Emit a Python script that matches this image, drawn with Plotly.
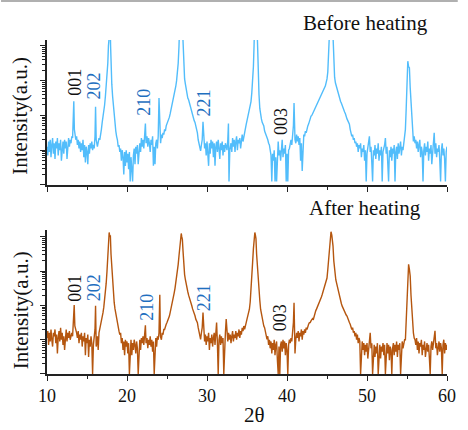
import plotly.graph_objects as go

# ---------------- data (2theta in degrees, log10 of intensity in a.u.) ----------------
two_theta_before = [
10.0,10.1,10.2,10.3,10.4,10.5,10.6,10.7,10.8,10.9,11.0,11.1,11.2,11.3,11.4,11.5,11.6,11.7,11.8,11.9,
12.0,12.1,12.2,12.3,12.4,12.5,12.6,12.7,12.8,12.9,13.0,13.1,13.2,13.3,13.35,13.42,13.5,13.6,13.7,13.8,13.9,
14.0,14.1,14.2,14.3,14.4,14.5,14.6,14.7,14.8,14.9,15.0,15.1,15.2,15.3,15.4,15.5,15.6,15.7,15.8,15.9,
16.0,16.07,16.15,16.3,16.4,16.5,16.6,16.7,16.8,16.9,17.0,17.1,17.2,17.3,17.4,17.5,17.6,17.68,17.72,17.9,17.95,
18.0,18.1,18.2,18.3,18.4,18.5,18.6,18.7,18.8,18.9,19.0,19.1,19.2,19.3,19.4,19.5,19.6,19.7,19.8,19.9,
20.0,20.1,20.2,20.3,20.4,20.5,20.6,20.7,20.8,20.9,21.0,21.1,21.2,21.3,21.4,21.5,21.6,21.7,21.8,21.9,
22.0,22.1,22.2,22.3,22.38,22.5,22.6,22.7,22.8,22.9,23.0,23.1,23.2,23.3,23.4,23.5,23.6,23.7,23.8,23.9,
24.0,24.1,24.2,24.3,24.4,24.5,24.6,24.7,24.8,24.9,25.0,25.1,25.2,25.3,25.4,25.5,25.6,25.7,25.8,25.9,
26.0,26.1,26.2,26.3,26.4,26.5,26.58,26.92,27.0,27.1,27.2,27.3,27.4,27.5,27.6,27.7,27.8,27.9,
28.0,28.1,28.2,28.3,28.4,28.5,28.6,28.7,28.8,28.9,29.0,29.1,29.2,29.3,29.4,29.5,29.58,29.7,29.8,29.9,
30.0,30.1,30.2,30.3,30.4,30.5,30.6,30.7,30.8,30.9,31.0,31.1,31.2,31.3,31.4,31.5,31.6,31.7,31.8,31.9,
32.0,32.1,32.2,32.3,32.4,32.5,32.6,32.68,32.75,32.85,33.0,33.1,33.2,33.3,33.4,33.5,33.6,33.7,33.8,33.9,
34.0,34.1,34.2,34.3,34.4,34.5,34.6,34.7,34.8,34.9,35.0,35.1,35.2,35.3,35.4,35.5,35.6,35.7,35.8,35.88,35.95,
36.25,36.32,36.4,36.5,36.6,36.7,36.8,36.9,37.0,37.1,37.2,37.3,37.4,37.5,37.6,37.7,37.8,37.9,
38.0,38.1,38.2,38.3,38.4,38.5,38.6,38.7,38.8,38.9,39.0,39.1,39.2,39.3,39.4,39.5,39.6,39.7,39.8,39.9,
40.0,40.1,40.2,40.3,40.4,40.5,40.6,40.7,40.8,40.88,40.95,41.0,41.1,41.2,41.3,41.4,41.5,41.6,41.7,41.8,41.9,
42.0,42.1,42.2,42.3,42.4,42.5,42.6,42.7,42.8,42.9,43.0,43.1,43.2,43.3,43.4,43.5,43.6,43.7,43.8,43.9,
44.0,44.1,44.2,44.3,44.4,44.5,44.6,44.7,44.8,44.9,45.0,45.1,45.2,45.28,45.35,45.7,45.78,45.85,45.95,
46.05,46.2,46.3,46.4,46.5,46.6,46.7,46.8,46.9,47.0,47.1,47.2,47.3,47.4,47.5,47.6,47.7,47.8,47.9,
48.0,48.1,48.2,48.3,48.4,48.5,48.6,48.7,48.8,48.9,49.0,49.1,49.2,49.3,49.4,49.5,49.6,49.7,49.8,49.9,
50.0,50.1,50.2,50.3,50.4,50.5,50.6,50.7,50.8,50.9,51.0,51.1,51.2,51.3,51.4,51.5,51.6,51.7,51.8,51.9,
52.0,52.1,52.2,52.3,52.4,52.5,52.6,52.7,52.8,52.9,53.0,53.1,53.2,53.3,53.4,53.5,53.6,53.7,53.8,53.9,
54.0,54.1,54.2,54.3,54.4,54.5,54.6,54.7,54.8,54.9,55.0,55.1,55.2,55.3,55.4,55.5,55.6,55.7,55.8,55.9,
56.0,56.1,56.2,56.3,56.4,56.5,56.6,56.7,56.8,56.9,57.0,57.1,57.2,57.3,57.4,57.5,57.6,57.7,57.8,57.9,
58.0,58.1,58.2,58.3,58.4,58.5,58.6,58.7,58.8,58.9,59.0,59.1,59.2,59.3,59.4,59.5,59.6,59.7,59.8,59.9,60.0]

log_counts_before = [
1.10,0.85,1.25,0.95,1.30,0.80,1.15,1.35,0.90,1.20,0.75,1.25,1.05,1.35,0.85,1.20,1.00,1.30,0.70,1.15,
1.25,0.90,1.30,1.05,1.25,0.75,1.20,1.35,1.10,1.30,1.20,1.40,1.35,1.90,2.41,1.60,1.45,1.30,1.40,1.15,1.30,
1.05,1.25,0.95,1.20,1.00,1.30,0.80,1.15,0.65,1.10,0.95,0.60,1.15,0.90,1.20,1.05,1.25,1.00,1.15,1.05,
1.40,2.25,1.30,1.10,1.20,1.35,1.30,1.55,1.60,1.80,1.95,2.10,2.30,2.55,2.80,3.10,3.50,4.00,4.60,4.60,4.00,
3.40,2.90,2.55,2.25,2.00,1.80,1.55,1.40,1.30,1.10,1.15,0.95,1.05,0.70,1.00,0.80,0.30,0.95,0.55,1.00,
0.65,0.90,0.45,0.95,0.10,0.80,0.40,0.10,0.85,1.05,0.60,1.10,0.90,1.15,0.60,1.00,1.20,0.95,1.35,1.10,
1.30,1.05,1.35,1.77,1.20,1.40,1.10,1.35,1.20,0.95,1.30,1.15,1.40,0.55,1.10,0.60,1.20,1.30,1.05,1.40,
2.50,1.30,1.20,1.45,1.35,1.50,1.45,1.60,1.55,1.70,1.75,1.80,1.90,1.95,2.05,2.15,2.25,2.36,2.45,2.55,
2.70,2.84,3.00,3.20,3.50,4.00,4.60,4.60,4.00,3.30,3.05,2.90,2.75,2.65,2.50,2.45,2.36,2.25,
2.20,2.10,2.03,1.95,1.85,1.80,1.70,1.55,1.50,1.30,1.20,1.10,0.98,1.15,1.30,1.82,1.25,1.05,1.20,0.85,
1.25,1.00,0.55,1.20,0.90,1.30,1.05,1.25,0.80,1.20,0.55,1.10,1.25,0.95,1.30,1.05,0.75,1.20,1.00,1.25,
0.85,1.15,0.95,1.20,1.10,1.00,1.30,1.77,0.10,1.00,1.20,0.95,1.35,1.10,1.30,0.95,1.25,1.40,1.00,1.30,
1.20,1.35,1.05,1.30,1.45,1.25,1.40,1.55,1.65,1.74,1.85,1.95,2.05,2.15,2.25,2.40,2.65,3.00,3.40,4.00,4.60,
4.60,3.80,3.10,2.60,2.20,1.98,1.90,1.80,1.75,1.70,1.55,1.50,1.45,1.40,1.30,1.20,1.15,1.00,
0.85,0.10,0.90,0.70,1.00,0.10,0.80,0.10,0.95,1.25,0.85,1.00,0.70,1.10,1.30,0.80,1.05,0.90,1.15,0.10,
0.90,0.10,1.00,1.05,1.20,1.30,1.15,1.40,1.70,2.36,1.50,1.30,1.20,1.45,1.25,1.40,1.15,1.35,0.70,1.20,0.40,
1.30,1.45,1.40,1.55,1.50,1.65,1.70,1.75,1.80,1.90,1.98,2.00,2.05,2.10,2.15,2.20,2.25,2.30,2.35,2.40,
2.45,2.50,2.55,2.60,2.65,2.70,2.75,2.80,2.85,2.95,3.05,3.25,3.60,4.10,4.60,4.60,4.00,3.40,3.10,
2.94,2.80,2.70,2.62,2.55,2.48,2.40,2.35,2.27,2.22,2.17,2.10,2.05,1.95,1.90,1.85,1.80,1.75,1.60,
1.50,1.40,1.45,1.30,1.35,1.20,1.25,1.10,1.20,0.95,1.15,1.05,1.20,0.80,1.05,0.95,1.15,0.70,1.00,0.10,
0.90,1.05,1.25,1.40,0.95,1.10,0.65,0.10,1.00,0.85,1.15,0.75,1.05,0.90,1.20,0.70,1.00,0.85,1.10,0.10,
0.95,1.05,1.15,1.35,0.90,1.10,0.60,0.10,1.00,0.80,1.10,0.70,1.05,0.90,1.15,0.10,0.95,1.10,0.75,1.20,
0.90,1.05,1.25,0.85,1.10,1.00,1.20,1.35,1.60,2.20,3.00,3.56,3.40,3.37,2.80,2.36,1.80,1.35,1.25,1.40,
1.20,1.30,1.05,1.25,0.95,1.15,1.30,0.80,1.10,0.95,0.10,1.00,1.20,0.85,1.10,0.95,1.25,0.70,1.05,0.90,
1.15,0.60,1.00,1.10,1.50,0.90,1.20,0.80,1.05,0.95,1.15,0.70,0.10,1.00,1.20,0.85,1.05,0.75,0.10,0.95,1.10]

two_theta_after = [
10.0,10.1,10.2,10.3,10.4,10.5,10.6,10.7,10.8,10.9,11.0,11.1,11.2,11.3,11.4,11.5,11.6,11.7,11.8,11.9,
12.0,12.1,12.2,12.3,12.4,12.5,12.6,12.7,12.8,12.9,13.0,13.1,13.2,13.3,13.4,13.48,13.6,13.7,13.8,13.9,
14.0,14.1,14.2,14.3,14.4,14.5,14.6,14.7,14.8,14.9,15.0,15.1,15.2,15.3,15.4,15.5,15.6,15.7,15.8,15.9,
16.0,16.07,16.15,16.3,16.4,16.5,16.6,16.7,16.8,16.9,17.0,17.1,17.2,17.3,17.4,17.5,17.6,17.7,17.77,17.85,17.92,
18.0,18.1,18.2,18.3,18.4,18.5,18.6,18.7,18.8,18.9,19.0,19.1,19.2,19.3,19.4,19.5,19.6,19.7,19.8,19.9,
20.0,20.1,20.2,20.3,20.4,20.5,20.6,20.7,20.8,20.9,21.0,21.1,21.2,21.3,21.4,21.5,21.6,21.7,21.8,21.9,
22.0,22.1,22.2,22.3,22.38,22.5,22.6,22.7,22.8,22.9,23.0,23.1,23.2,23.3,23.4,23.5,23.6,23.7,23.8,23.9,
24.0,24.1,24.18,24.3,24.4,24.5,24.6,24.7,24.8,24.9,25.0,25.1,25.2,25.3,25.4,25.5,25.6,25.7,25.8,25.9,
26.0,26.1,26.2,26.3,26.4,26.5,26.6,26.7,26.78,26.85,26.92,27.0,27.1,27.2,27.3,27.4,27.5,27.6,27.7,27.8,27.9,
28.0,28.1,28.2,28.3,28.4,28.5,28.6,28.7,28.8,28.9,29.0,29.1,29.2,29.3,29.4,29.5,29.58,29.7,29.8,29.9,
30.0,30.1,30.2,30.3,30.4,30.5,30.6,30.7,30.8,30.9,31.0,31.1,31.2,31.3,31.4,31.5,31.6,31.7,31.8,31.9,
32.0,32.1,32.2,32.3,32.4,32.5,32.6,32.7,32.8,32.9,33.0,33.1,33.2,33.3,33.4,33.5,33.6,33.7,33.8,33.9,
34.0,34.1,34.2,34.3,34.4,34.5,34.6,34.7,34.8,34.9,35.0,35.1,35.2,35.3,35.4,35.5,35.6,35.7,35.8,35.88,35.98,
36.05,36.12,36.2,36.3,36.4,36.5,36.6,36.7,36.8,36.9,37.0,37.1,37.2,37.3,37.4,37.5,37.6,37.7,37.8,37.9,
38.0,38.1,38.2,38.3,38.4,38.5,38.6,38.7,38.8,38.9,39.0,39.1,39.2,39.3,39.4,39.5,39.6,39.7,39.8,39.9,
40.0,40.1,40.2,40.3,40.4,40.5,40.6,40.7,40.8,40.88,40.95,41.0,41.1,41.2,41.3,41.4,41.5,41.6,41.7,41.8,41.9,
42.0,42.1,42.2,42.3,42.4,42.5,42.6,42.7,42.8,42.9,43.0,43.1,43.2,43.3,43.4,43.5,43.6,43.7,43.8,43.9,
44.0,44.1,44.2,44.3,44.4,44.5,44.6,44.7,44.8,44.9,45.0,45.1,45.2,45.3,45.4,45.5,45.6,45.68,45.75,45.85,45.95,
46.0,46.1,46.2,46.3,46.4,46.5,46.6,46.7,46.8,46.9,47.0,47.1,47.2,47.3,47.4,47.5,47.6,47.7,47.8,47.9,
48.0,48.1,48.2,48.3,48.4,48.5,48.6,48.7,48.8,48.9,49.0,49.1,49.2,49.3,49.4,49.5,49.6,49.7,49.8,49.9,
50.0,50.1,50.2,50.3,50.4,50.5,50.6,50.7,50.8,50.9,51.0,51.1,51.2,51.3,51.4,51.5,51.6,51.7,51.8,51.9,
52.0,52.1,52.2,52.3,52.4,52.5,52.6,52.7,52.8,52.9,53.0,53.1,53.2,53.3,53.4,53.5,53.6,53.7,53.8,53.9,
54.0,54.1,54.2,54.3,54.4,54.5,54.6,54.7,54.8,54.9,55.0,55.1,55.2,55.3,55.4,55.5,55.6,55.7,55.8,55.9,
56.0,56.1,56.2,56.3,56.4,56.5,56.6,56.7,56.8,56.9,57.0,57.1,57.2,57.3,57.4,57.5,57.6,57.7,57.8,57.9,
58.0,58.1,58.2,58.3,58.4,58.5,58.6,58.7,58.8,58.9,59.0,59.1,59.2,59.3,59.4,59.5,59.6,59.7,59.8,59.9,60.0]

log_counts_after = [
1.05,1.25,0.85,1.20,0.95,1.30,1.00,0.80,1.20,1.10,1.30,0.90,1.15,0.60,1.05,1.25,0.95,1.35,1.00,1.20,
0.85,1.10,0.70,1.15,1.30,0.95,1.20,1.05,1.25,1.00,1.15,1.20,1.10,1.45,2.01,1.40,1.30,1.20,1.05,1.25,
0.90,1.15,1.00,1.20,0.80,1.10,0.95,1.20,0.55,1.05,0.90,1.15,0.50,1.00,0.80,1.10,0.90,0.00,0.85,1.05,
1.30,1.99,0.80,1.10,0.70,1.20,1.30,1.40,1.55,1.65,1.79,1.95,2.15,2.37,2.65,3.00,3.35,3.90,4.13,4.00,4.05,
3.50,3.06,2.70,2.35,2.08,1.90,1.75,1.60,1.50,1.35,1.25,1.15,1.20,0.90,1.05,0.70,0.95,0.55,1.00,0.80,
0.95,0.60,0.90,0.00,0.75,1.00,0.55,0.90,0.70,1.00,0.85,0.60,0.95,0.75,0.00,0.85,1.00,0.70,1.05,0.90,
1.10,0.85,1.05,1.42,0.90,1.05,0.75,1.00,0.85,1.10,0.80,1.00,0.65,0.95,0.00,0.90,1.05,0.80,1.10,1.00,
1.20,2.31,1.10,1.00,1.20,1.15,1.30,1.30,1.40,1.45,1.50,1.55,1.60,1.69,1.80,1.90,2.00,2.10,2.25,2.37,
2.50,2.65,2.80,2.96,3.20,3.45,3.74,4.00,4.10,4.00,3.93,3.60,3.15,2.90,2.75,2.60,2.47,2.40,2.30,2.20,2.12,
2.05,1.99,1.90,1.85,1.75,1.70,1.60,1.55,1.50,1.35,1.20,1.10,1.01,1.20,1.35,1.79,1.30,0.95,1.15,0.85,
1.10,0.95,1.20,0.70,1.05,0.90,1.15,0.80,1.05,1.20,0.85,1.10,1.50,0.90,0.00,1.00,1.15,0.85,1.10,0.90,
1.05,0.00,1.00,1.20,1.60,1.10,0.95,1.20,1.00,1.15,0.90,1.10,1.25,0.95,1.15,1.05,1.25,1.00,1.20,1.10,
1.30,1.05,1.25,1.15,1.35,1.25,1.40,1.30,1.45,1.50,1.60,1.70,1.80,1.89,2.10,2.40,2.80,3.25,3.65,3.93,4.13,
4.05,3.95,3.50,3.10,2.86,2.50,2.15,1.89,1.75,1.60,1.50,1.40,1.35,1.20,1.10,1.01,1.10,0.85,1.00,0.75,
0.95,0.60,0.90,0.70,1.00,0.55,0.85,0.95,0.40,0.00,0.80,0.00,0.85,0.95,0.65,1.00,0.75,0.95,0.55,0.90,
0.70,0.00,0.85,1.00,0.90,1.05,0.95,1.15,1.50,2.08,0.65,0.60,1.00,1.20,1.05,1.25,0.95,1.20,1.10,1.30,1.00,
1.25,1.15,1.30,1.20,1.35,1.30,1.40,1.45,1.50,1.50,1.55,1.60,1.62,1.60,1.70,1.75,1.85,1.90,1.95,2.00,
2.05,2.12,2.18,2.25,2.32,2.40,2.45,2.52,2.57,2.65,2.80,3.05,3.35,3.70,3.95,4.15,4.05,3.90,3.74,3.30,3.00,
2.86,2.75,2.65,2.55,2.45,2.35,2.25,2.08,2.05,1.98,1.92,1.85,1.80,1.78,1.72,1.69,1.60,1.55,1.50,1.45,
1.40,1.30,1.35,1.21,1.25,1.10,1.20,1.00,1.15,0.90,1.05,0.95,0.00,0.80,0.95,0.70,0.90,0.55,0.85,0.65,
0.90,0.45,0.80,1.00,1.20,0.75,0.90,0.00,0.70,0.85,0.50,0.80,0.60,0.90,0.00,0.75,0.85,0.45,0.80,0.65,
0.90,0.55,0.85,0.00,0.70,0.90,0.60,0.85,0.40,0.80,0.70,0.00,0.75,0.90,0.55,0.85,0.65,0.95,0.50,0.85,
0.70,0.90,0.00,0.80,0.95,0.75,0.90,1.00,1.00,1.60,2.37,2.90,3.20,3.05,2.86,2.30,1.79,1.40,1.20,1.05,
1.00,0.85,1.05,0.70,0.95,0.60,0.90,0.80,1.00,0.55,0.85,0.70,0.95,0.50,0.80,0.90,0.65,0.85,0.45,0.00,
0.80,0.95,0.70,0.90,1.00,1.26,0.75,0.90,0.55,0.85,0.95,0.65,0.90,0.75,0.00,0.85,1.00,0.60,0.90,0.70,0.85]

x_tick_vals = [10, 20, 30, 40, 50, 60]
x_tick_text = ["10", "20", "30", "40", "50", "60"]

# peak labels: (text, 2theta, log10 position, colour group)
labels_before = [("001", 13.46, 2.96, "k"), ("202", 15.9, 2.84, "b"), ("210", 22.2, 2.38, "b"),
                 ("221", 29.56, 2.36, "b"), ("003", 39.26, 1.81, "k")]
labels_after = [("001", 13.46, 2.51, "k"), ("202", 15.9, 2.51, "b"), ("210", 22.5, 1.93, "b"),
                ("221", 29.66, 2.22, "b"), ("003", 39.13, 1.63, "k")]

# ---------------- figure ----------------
SERIF = "Liberation Serif, Times New Roman, serif"
COL_BEFORE = "#52bdfb"
COL_AFTER = "#b5560f"
LABEL_COL = {"k": "#111111", "b": "#1f6fbf"}

fig = go.Figure()
fig.add_trace(go.Scatter(x=two_theta_before, y=[10 ** v for v in log_counts_before],
                         mode="lines", line=dict(color=COL_BEFORE, width=1.4),
                         xaxis="x", yaxis="y", showlegend=False))
fig.add_trace(go.Scatter(x=two_theta_after, y=[10 ** v for v in log_counts_after],
                         mode="lines", line=dict(color=COL_AFTER, width=1.4),
                         xaxis="x2", yaxis="y2", showlegend=False))

common_x = dict(range=[10, 60], showline=True, linecolor="#222", linewidth=1.5,
                ticks="outside", ticklen=5, tickwidth=1.2, tickcolor="#222",
                tickvals=x_tick_vals, ticktext=x_tick_text,
                minor=dict(ticks="outside", ticklen=3, tickwidth=1.2, tickcolor="#222", dtick=5),
                showgrid=False, zeroline=False, mirror=False,
                tickfont=dict(family=SERIF, size=18, color="#111"))
common_y = dict(type="log", showline=True, linecolor="#222", linewidth=1.5,
                ticks="outside", ticklen=5, tickwidth=1.2, tickcolor="#222", dtick=1,
                minor=dict(ticks="outside", ticklen=3, tickwidth=1, tickcolor="#222", dtick="D1"),
                showgrid=False, zeroline=False, showticklabels=False)

fig.update_layout(
    width=468, height=430,
    margin=dict(l=47, r=12, t=40, b=56),
    paper_bgcolor="white", plot_bgcolor="white",
    xaxis=dict(**common_x, domain=[0, 1], anchor="y", showticklabels=False),
    yaxis=dict(**common_y, domain=[0.566, 1], range=[0, 4.17], anchor="x"),
    xaxis2=dict(**common_x, domain=[0, 1], anchor="y2", showticklabels=True),
    yaxis2=dict(**common_y, domain=[0, 0.431], range=[0, 4.2], anchor="x2"),
)

ann = []
for txt, xv, yv, c in labels_before:
    ann.append(dict(text=txt, x=xv, y=yv, xref="x", yref="y", textangle=-90, showarrow=False,
                    xanchor="center", yanchor="middle",
                    font=dict(family=SERIF, size=18, color=LABEL_COL[c])))
for txt, xv, yv, c in labels_after:
    ann.append(dict(text=txt, x=xv, y=yv, xref="x2", yref="y2", textangle=-90, showarrow=False,
                    xanchor="center", yanchor="middle",
                    font=dict(family=SERIF, size=18, color=LABEL_COL[c])))
ann.append(dict(text="Before heating", x=49.8, y=1.051, xref="x", yref="paper", showarrow=False,
                xanchor="center", yanchor="middle", font=dict(family=SERIF, size=21, color="#111")))
ann.append(dict(text="After heating", x=49.8, y=0.497, xref="x2", yref="paper", showarrow=False,
                xanchor="center", yanchor="middle", font=dict(family=SERIF, size=21, color="#111")))
ann.append(dict(text="Intensity(a.u.)", x=-0.066, y=0.772, xref="paper", yref="paper",
                textangle=-90, showarrow=False, xanchor="center", yanchor="middle",
                font=dict(family=SERIF, size=21, color="#111")))
ann.append(dict(text="Intensity(a.u.)", x=-0.066, y=0.19, xref="paper", yref="paper",
                textangle=-90, showarrow=False, xanchor="center", yanchor="middle",
                font=dict(family=SERIF, size=21, color="#111")))
ann.append(dict(text="2θ", x=0.518, y=-0.123, xref="paper", yref="paper", showarrow=False,
                xanchor="center", yanchor="middle", font=dict(family=SERIF, size=21, color="#111")))
fig.update_layout(annotations=ann)

fig.add_shape(type="line", xref="paper", yref="paper", x0=-47 / 409, x1=420 / 409,
              y0=373 / 334, y1=373 / 334, line=dict(color="#b0b0b0", width=2))

fig.write_html("out.html", config={"displayModeBar": False},
               post_script="document.body.style.margin='0';")
